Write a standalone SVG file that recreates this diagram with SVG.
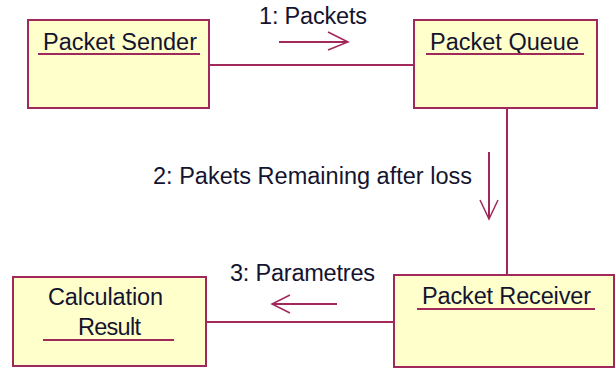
<svg xmlns="http://www.w3.org/2000/svg" width="615" height="370" viewBox="0 0 615 370">
<style>
.box{fill:#FFFFCC;stroke:#A0285A;stroke-width:2}
.ul{stroke:#A0285A;stroke-width:2}
.ln{stroke:#A0285A;stroke-width:2;fill:none}
.ah{stroke:#A0285A;stroke-width:1.5;fill:none}
text{font-family:"Liberation Sans",Arial,sans-serif;font-size:23.5px;fill:#14142e}
</style>
<rect width="615" height="370" fill="#fff"/>
<g id="connectors">
<line class="ln" x1="209" y1="65" x2="414" y2="65"/>
<line class="ln" x1="507" y1="108" x2="507" y2="275"/>
<line class="ln" x1="206" y1="322" x2="394" y2="322"/>
<line class="ln" x1="279" y1="42" x2="348" y2="42"/>
<polyline class="ah" points="328,32 348,42 328,50"/>
<text x="259" y="24" textLength="108" lengthAdjust="spacing">1: Packets</text>
<line class="ln" x1="489" y1="152" x2="489" y2="219"/>
<polyline class="ah" points="480,200 489,219 498,200"/>
<text x="153" y="184" textLength="319" lengthAdjust="spacing">2: Pakets Remaining after loss</text>
<line class="ln" x1="272" y1="304" x2="337" y2="304"/>
<polyline class="ah" points="290,295 272,304 290,313"/>
<text x="230" y="281" textLength="145" lengthAdjust="spacing">3: Parametres</text>
</g>
<g id="packet-sender">
<rect class="box" x="28" y="20" width="181" height="88"/>
<text x="43" y="50" textLength="154" lengthAdjust="spacing">Packet Sender</text>
<line class="ul" x1="38" y1="54" x2="200" y2="54"/>
</g>
<g id="packet-queue">
<rect class="box" x="414" y="20" width="183" height="88"/>
<text x="430" y="50" textLength="149" lengthAdjust="spacing">Packet Queue</text>
<line class="ul" x1="426" y1="54" x2="584" y2="54"/>
</g>
<g id="packet-receiver">
<rect class="box" x="394" y="275" width="220" height="92"/>
<text x="422" y="304" textLength="169" lengthAdjust="spacing">Packet Receiver</text>
<line class="ul" x1="417" y1="309" x2="595" y2="309"/>
</g>
<g id="calculation-result">
<rect class="box" x="13" y="277" width="193" height="89"/>
<text x="48" y="305" textLength="115" lengthAdjust="spacing">Calculation</text>
<text x="78" y="335" textLength="63" lengthAdjust="spacing">Result</text>
<line class="ul" x1="43" y1="340" x2="174" y2="340"/>
</g>
</svg>
